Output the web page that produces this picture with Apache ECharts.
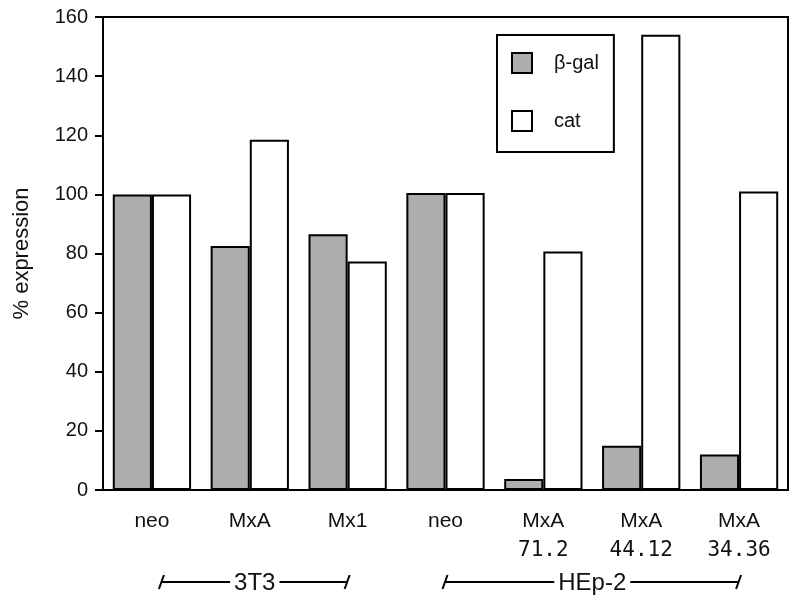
<!DOCTYPE html>
<html><head><meta charset="utf-8">
<script src="https://cdn.jsdelivr.net/npm/echarts@6/dist/echarts.min.js"></script>
<style>html,body{margin:0;padding:0;background:#fff}#c{width:800px;height:603px}</style>
</head><body><div id="c"></div>
<script>
const categories = ['neo', 'MxA', 'Mx1', 'neo', 'MxA', 'MxA', 'MxA'];
const subLabels = ['', '', '', '', '71.2', '44.12', '34.36'];
const betaGal = [100, 82.5, 86.5, 100.5, 3.7, 15, 12];
const cat = [100, 118.5, 77.3, 100.5, 80.7, 154, 101];
const yTicks = [0, 20, 40, 60, 80, 100, 120, 140, 160];
const groups = [
  { name: '3T3', from: 0, to: 2 },
  { name: 'HEp-2', from: 3, to: 6 }
];
const FONT = "'Liberation Sans', Arial, Helvetica, sans-serif";
const MONO = "'DejaVu Sans Mono', 'Liberation Mono', monospace";

const chart = echarts.init(document.getElementById('c'), null, { renderer: 'canvas' });
chart.setOption({
  animation: false,
  backgroundColor: '#fff',
  textStyle: { fontFamily: FONT },
  grid: { left: 103, right: 12, top: 17, bottom: 113, show: true, borderColor: '#000', borderWidth: 2 },
  legend: {
    orient: 'vertical', left: 497, top: 35,
    padding: [17, 15, 20, 14],
    itemWidth: 20, itemHeight: 20, itemGap: 36,
    borderColor: '#000', borderWidth: 2,
    icon: 'rect',
    textStyle: { fontFamily: FONT, fontSize: 20, color: '#111', lineHeight: 20, padding: [0, 0, 0, 17] },
    data: ['β-gal', 'cat']
  },
  xAxis: {
    type: 'category', data: categories,
    axisLine: { lineStyle: { color: '#000', width: 2 } },
    axisTick: { alignWithLabel: true, length: 10, interval: 0, lineStyle: { color: '#000', width: 2 } },
    axisLabel: {
      interval: 0, margin: 17, color: '#111',
      formatter: function (v, i) { return '{a|' + v + '}' + (subLabels[i] ? '\n{b|' + subLabels[i] + '}' : ''); },
      rich: {
        a: { fontSize: 21, fontFamily: FONT, color: '#111', lineHeight: 29 },
        b: { fontSize: 21, fontFamily: MONO, color: '#111', lineHeight: 29 }
      }
    }
  },
  yAxis: {
    type: 'value', min: yTicks[0], max: yTicks[yTicks.length - 1], interval: 20,
    name: '% expression', nameLocation: 'middle', nameGap: 70, nameRotate: 90,
    nameTextStyle: { fontSize: 22, color: '#111', fontFamily: FONT },
    splitLine: { show: false },
    axisLine: { show: true, lineStyle: { color: '#000', width: 2 } },
    axisTick: { show: true, length: 8, lineStyle: { color: '#000', width: 2 } },
    axisLabel: { margin: 15, fontSize: 20, color: '#111', fontFamily: FONT }
  },
  series: [
    { name: 'β-gal', type: 'bar', data: betaGal, barGap: '0%', barCategoryGap: '20%',
      itemStyle: { color: '#adadad', borderColor: '#000', borderWidth: 2 } },
    { name: 'cat', type: 'bar', data: cat,
      itemStyle: { color: '#fff', borderColor: '#000', borderWidth: 2 } }
  ]
});

function drawBrackets() {
  const els = [];
  const y = 582;
  const ctx = document.createElement('canvas').getContext('2d');
  ctx.font = '24px ' + FONT;
  groups.forEach((g, gi) => {
    let x1 = chart.convertToPixel({ xAxisIndex: 0 }, g.from);
    let x2 = chart.convertToPixel({ xAxisIndex: 0 }, g.to);
    if (gi === 0) x1 += 10;
    const mid = (x1 + x2) / 2;
    const half = ctx.measureText(g.name).width / 2 + 4;
    els.push({ type: 'line', shape: { x1: x1, y1: y, x2: mid - half, y2: y }, style: { stroke: '#000', lineWidth: 2 } });
    els.push({ type: 'line', shape: { x1: mid + half, y1: y, x2: x2, y2: y }, style: { stroke: '#000', lineWidth: 2 } });
    els.push({ type: 'line', shape: { x1: x1 - 3, y1: y + 7, x2: x1 + 2, y2: y - 7 }, style: { stroke: '#000', lineWidth: 2 } });
    els.push({ type: 'line', shape: { x1: x2 - 3, y1: y + 7, x2: x2 + 2, y2: y - 7 }, style: { stroke: '#000', lineWidth: 2 } });
    els.push({ type: 'text', x: mid, y: y + 1, style: { text: g.name, fontSize: 24, fontFamily: FONT, fill: '#111', align: 'center', verticalAlign: 'middle' } });
  });
  chart.setOption({ graphic: els });
}
drawBrackets();
</script>
</body></html>
